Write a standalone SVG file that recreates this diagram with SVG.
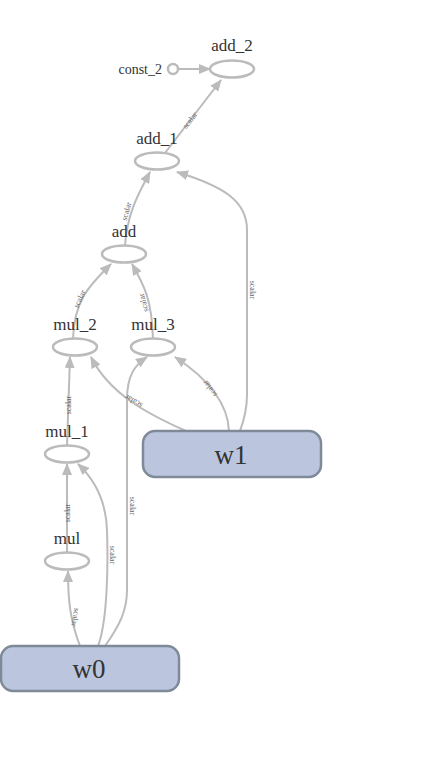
<svg xmlns="http://www.w3.org/2000/svg" width="442" height="777" viewBox="0 0 442 777">
<style>
.e{fill:none;stroke:#bbb;stroke-width:2;marker-end:url(#arr)}
.n{fill:#fff;stroke:#bbb;stroke-width:2.5}
.t{font-family:"Liberation Serif","Times New Roman",serif;font-size:17px;fill:#333;text-anchor:middle}
.s{font-family:"Liberation Serif","Times New Roman",serif;font-size:8px;fill:#666;text-anchor:middle}
.b{fill:#bbc6de;stroke:#7f8a99;stroke-width:2.5}
.bt{font-family:"Liberation Serif","Times New Roman",serif;font-size:27px;fill:#333;text-anchor:middle}
</style>
<defs>
<marker id="arr" markerUnits="userSpaceOnUse" markerWidth="12" markerHeight="10" refX="11" refY="5" orient="auto">
<path d="M0,0 L12,5 L0,10 Z" fill="#bbb"/>
</marker>
</defs>
<rect width="442" height="777" fill="#fff"/>
<g id="edges">
<path class="e" d="M179,69 L210,69"/>
<path class="e" d="M165,153 L221,80"/>
<path class="e" d="M125,246 C127,215 137,196 150,172"/>
<path class="e" d="M240,431 C244,420 247,410 247,395 L247,230 C247,200 222,186 177,172"/>
<path class="e" d="M73,339 C74,300 90,285 111,264"/>
<path class="e" d="M153,339 C152,300 144,285 132,264"/>
<path class="e" d="M186,431 C150,415 110,395 91,357"/>
<path class="e" d="M229,431 C228,405 210,380 175,357"/>
<path class="e" d="M67,446 L70,357"/>
<path class="e" d="M98,646 C108,620 108,560 107,530 C106,500 95,480 78,464"/>
<path class="e" d="M105,646 C120,625 127,610 127,590 L127,400 C127,375 135,365 147,357"/>
<path class="e" d="M80,646 C70,620 68,600 68,571"/>
<path class="e" d="M67,553 L67,464"/>
<text class="s" transform="translate(192,122) rotate(-52)">scalar</text>
<text class="s" transform="translate(129,212) rotate(-74)">scalar</text>
<text class="s" transform="translate(250,290) rotate(90)">scalar</text>
<text class="s" transform="translate(82,300) rotate(-65)">scalar</text>
<text class="s" transform="translate(146,302) rotate(-105)">scalar</text>
<text class="s" transform="translate(135,399) rotate(-150)">scalar</text>
<text class="s" transform="translate(212,387) rotate(-127)">scalar</text>
<text class="s" transform="translate(71,405) rotate(-90)">scalar</text>
<text class="s" transform="translate(110,555) rotate(90)">scalar</text>
<text class="s" transform="translate(130,506) rotate(90)">scalar</text>
<text class="s" transform="translate(73,617) rotate(100)">scalar</text>
<text class="s" transform="translate(70,513) rotate(-90)">scalar</text>
</g>
<g id="const_2"><circle class="n" cx="173" cy="69" r="5"/><text class="t" x="162" y="74" style="text-anchor:end;font-size:14px">const_2</text></g>
<g id="add_2"><ellipse class="n" cx="232" cy="69" rx="22" ry="8.5"/><text class="t" x="232" y="51">add_2</text></g>
<g id="add_1"><ellipse class="n" cx="157" cy="161" rx="22" ry="8.5"/><text class="t" x="157" y="144">add_1</text></g>
<g id="add"><ellipse class="n" cx="124" cy="254" rx="22" ry="8.5"/><text class="t" x="124" y="237">add</text></g>
<g id="mul_2"><ellipse class="n" cx="75" cy="347" rx="22" ry="8.5"/><text class="t" x="75" y="330">mul_2</text></g>
<g id="mul_3"><ellipse class="n" cx="153" cy="347" rx="22" ry="8.5"/><text class="t" x="153" y="330">mul_3</text></g>
<g id="mul_1"><ellipse class="n" cx="67" cy="454" rx="22" ry="8.5"/><text class="t" x="67" y="437">mul_1</text></g>
<g id="mul"><ellipse class="n" cx="67" cy="561" rx="22" ry="8.5"/><text class="t" x="67" y="544">mul</text></g>
<g id="w1"><rect class="b" x="143" y="431" width="178" height="46" rx="12"/><text class="bt" x="231" y="464">w1</text></g>
<g id="w0"><rect class="b" x="1" y="646" width="178" height="45" rx="12"/><text class="bt" x="89" y="678">w0</text></g>
</svg>
